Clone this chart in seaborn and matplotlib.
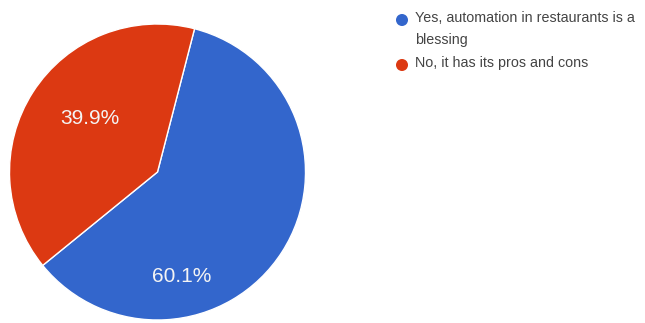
import matplotlib
matplotlib.use("Agg")
import matplotlib.pyplot as plt
import seaborn as sns

categories = ["Yes, automation in restaurants is a\nblessing", "No, it has its pros and cons"]
values = [60.1, 39.9]
colors = ["#3366CC", "#DC3912"]

sns.set_theme(style="white")
plt.rcParams["font.family"] = ["Liberation Sans", "DejaVu Sans"]

W, H = 645, 323
fig = plt.figure(figsize=(W / 100, H / 100), dpi=100)
fig.patch.set_facecolor("white")

cx, cy, r = 157.5, 172, 148
ax = fig.add_axes([(cx - r) / W, (H - cy - r) / H, 2 * r / W, 2 * r / H])
wedges, texts, autotexts = ax.pie(
    values, colors=colors, startangle=75.5, counterclock=False,
    autopct="%.1f%%", radius=1,
    wedgeprops=dict(edgecolor="white", linewidth=1.0),
    textprops=dict(color="#f4f4f4", fontsize=15),
)
ax.set_xlim(-1, 1)
ax.set_ylim(-1, 1)
ax.set_aspect("equal")
ax.axis("off")

# label placement similar to the reference
label_pos = [((182 - cx) / r, (cy - 277) / r), ((90 - cx) / r, (cy - 118) / r)]
for t, p in zip(autotexts, label_pos):
    t.set_position(p)
    t.set_ha("center")
    t.set_va("center")

# legend
lax = fig.add_axes([0, 0, 1, 1])
lax.set_xlim(0, W)
lax.set_ylim(H, 0)
lax.axis("off")
rows = [20, 65]
for lab, col, y in zip(categories, colors, rows):
    lax.scatter([402], [y], s=75, color=col, edgecolor="none")
    lax.text(415, y - 8.5, lab, fontsize=10.3, color="#444444", va="top", ha="left",
             linespacing=1.65)

fig.savefig("out.png", dpi=100, facecolor="white")
